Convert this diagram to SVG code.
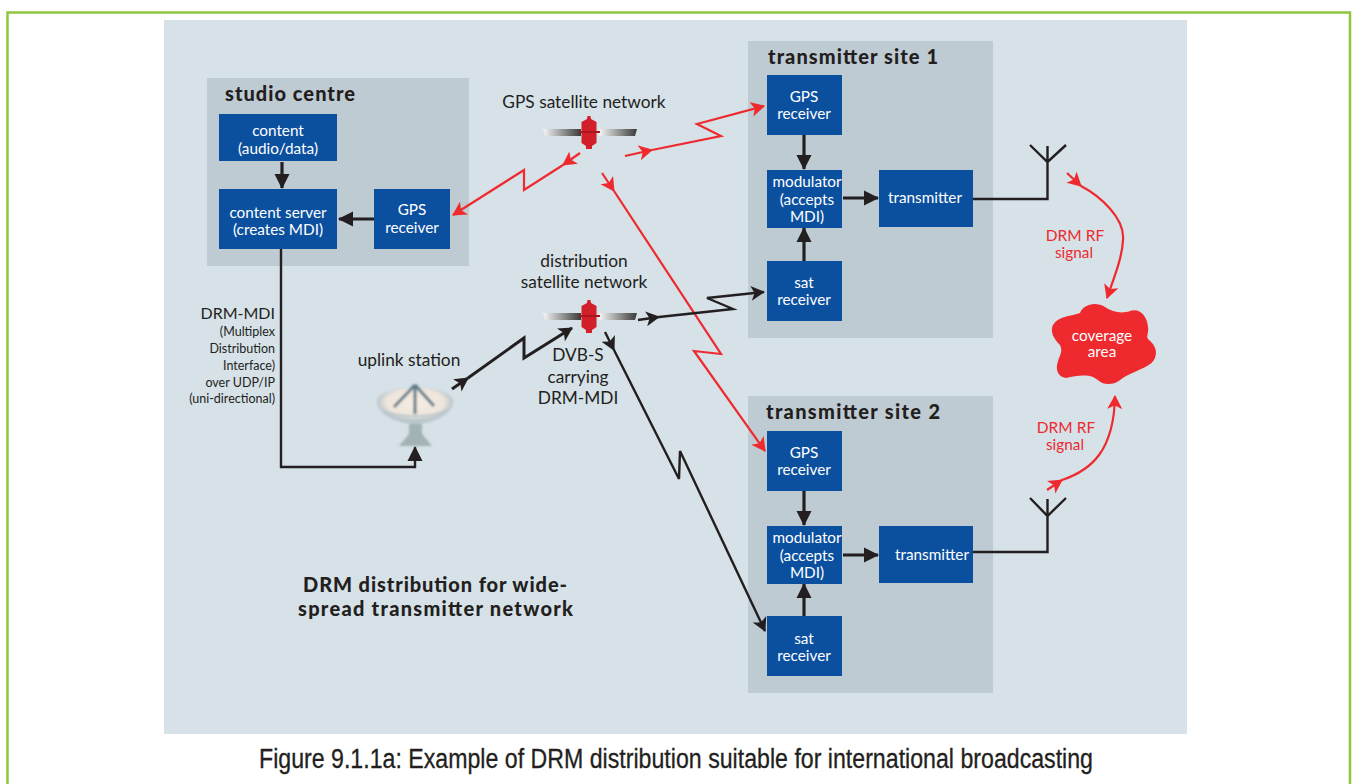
<svg xmlns="http://www.w3.org/2000/svg" width="1357" height="784" viewBox="0 0 1357 784">
<style>
.t{font-family:"Lato","Liberation Sans",sans-serif;font-size:15.3px;text-anchor:middle}
.l{font-size:17.3px}
.w{fill:#fff}.k{fill:#231f20}.r{fill:#ee2a2e}
.h{font-family:"Lato","Liberation Sans",sans-serif;font-size:20px;font-weight:900;fill:#231f20}
.b{fill:#0b509f}.g{fill:#bfcbd2}
.c{fill:none;stroke:#231f20;stroke-width:3.2}
.cr{fill:none;stroke:#ee2a2e;stroke-width:2.2}
.ck{fill:none;stroke:#231f20;stroke-width:2.4}
</style>
<defs>
<marker id="ak" markerUnits="userSpaceOnUse" markerWidth="18" markerHeight="18" refX="14" refY="8" orient="auto"><path d="M0 0.500L15 8L0 15.500Z" fill="#231f20"/></marker>
<marker id="ar" markerUnits="userSpaceOnUse" markerWidth="18" markerHeight="18" refX="13" refY="8" orient="auto"><path d="M0 0.500L14 8L0 15.500L3.500 8Z" fill="#ee2a2e"/></marker>
<marker id="akb" markerUnits="userSpaceOnUse" markerWidth="18" markerHeight="18" refX="13" refY="8" orient="auto"><path d="M0 0.500L14 8L0 15.500L3.500 8Z" fill="#231f20"/></marker>
<linearGradient id="pl"><stop offset="0" stop-color="#f6f6f6"/><stop offset="1" stop-color="#3a3a3a"/></linearGradient>
<radialGradient id="dish" cy="0.4"><stop offset="0" stop-color="#f5ede4"/><stop offset="0.75" stop-color="#efe6dc"/><stop offset="1" stop-color="#b9c6cb"/></radialGradient>
<filter id="bl"><feGaussianBlur stdDeviation="0.8"/></filter>
<g id="sat">
<path d="M-46 -3H-8V4H-44Z" fill="url(#pl)"/><path d="M10 -3H48L46 4H10Z" fill="url(#pl)"/>
<path d="M-2 -13L-1.500 -16H1.500L2 -13L7.500 -10V11L3 14V17H-3V14L-7.500 11V-10Z" fill="#d2202a"/>
<path d="M-10 0H11" stroke="#a8161f" stroke-width="2"/>
</g>
</defs>
<rect x="0" y="0" width="1357" height="784" fill="#fff"/>
<path d="M7.500 784V12.500H1350V784" fill="none" stroke="#8fc63f" stroke-width="2.500"/>
<rect x="164" y="20" width="1023" height="714" fill="#d6e1e8"/>
<rect class="g" x="207" y="78" width="262" height="188"/>
<rect class="g" x="748" y="41" width="245" height="297"/>
<rect class="g" x="748" y="396" width="245" height="297"/>
<g id="connectors">
<path class="c" marker-end="url(#ak)" d="M282 162V188"/>
<path class="c" marker-end="url(#ak)" d="M374 219H339"/>
<path class="ck" marker-end="url(#ak)" d="M281 249V467H415V447"/>
<path class="c" marker-end="url(#ak)" d="M804 135V169"/>
<path class="c" marker-end="url(#ak)" d="M843 198H878"/>
<path class="c" marker-end="url(#ak)" d="M804 261V228"/>
<path class="c" marker-end="url(#ak)" d="M804 491V525"/>
<path class="c" marker-end="url(#ak)" d="M843 555H878"/>
<path class="c" marker-end="url(#ak)" d="M804 616V584"/>
<path class="ck" d="M973 199H1047.500V146M1030 145L1047.500 162L1066 145"/>
<path class="ck" d="M973 552H1047.500V499M1030 498L1047.500 516L1066 498"/>
<path class="cr" marker-end="url(#ar)" d="M625 156L652 150"/>
<path class="cr" marker-end="url(#ar)" d="M652 150L721 136L697 124L764 106"/>
<path class="cr" marker-end="url(#ar)" d="M580 153L563 165"/>
<path class="cr" marker-end="url(#ar)" d="M563 165L524 190V170L453 215"/>
<path class="cr" marker-end="url(#ar)" d="M602 173L614 191"/>
<path class="cr" marker-end="url(#ar)" d="M614 191L721 354L694 351L765 451"/>
<path class="ck" marker-end="url(#akb)" d="M638 320L659 317"/>
<path class="ck" marker-end="url(#akb)" d="M659 317L733 309L707 298L764 292"/>
<path d="M452 389L468 378" fill="none" stroke="#231f20" stroke-width="3" marker-end="url(#akb)"/>
<path d="M468 378L524 338V358L572 328" fill="none" stroke="#231f20" stroke-width="3" marker-end="url(#akb)"/>
<path class="ck" marker-end="url(#akb)" d="M605 332L614 350"/>
<path class="ck" marker-end="url(#akb)" d="M614 350L679 479L680 451L765 631"/>
<path class="cr" marker-end="url(#ar)" d="M1067 173L1081 186"/>
<path class="cr" marker-end="url(#ar)" d="M1081 186C1100 196 1125 218 1123 240C1122 258 1115 275 1107 298"/>
<path class="cr" marker-end="url(#ar)" d="M1047 490L1062 480"/>
<path class="cr" marker-end="url(#ar)" d="M1062 480C1092 470 1114 450 1115 396"/>
</g>
<g id="node-content"><rect class="b" x="219" y="114" width="118" height="47"/><text class="t w" x="278" y="136">content</text><text class="t w" x="278" y="154">(audio/data)</text></g>
<g id="node-server"><rect class="b" x="219" y="189" width="118" height="60"/><text class="t w" x="278" y="218">content server</text><text class="t w" x="278" y="235">(creates MDI)</text></g>
<g id="node-gps0"><rect class="b" x="374" y="189" width="76" height="60"/><text class="t w" x="412" y="215">GPS</text><text class="t w" x="412" y="233">receiver</text></g>
<g id="node-gps1"><rect class="b" x="767" y="75" width="75" height="60"/><text class="t w" x="804" y="102">GPS</text><text class="t w" x="804" y="119">receiver</text></g>
<g id="node-mod1"><rect class="b" x="767" y="170" width="75" height="58"/><text class="t w" x="807" y="187">modulator</text><text class="t w" x="807" y="205">(accepts</text><text class="t w" x="807" y="222">MDI)</text></g>
<g id="node-tx1"><rect class="b" x="879" y="170" width="94" height="57"/><text class="t w" x="925" y="203">transmitter</text></g>
<g id="node-sat1"><rect class="b" x="767" y="261" width="75" height="60"/><text class="t w" x="804" y="288">sat</text><text class="t w" x="804" y="305">receiver</text></g>
<g id="node-gps2"><rect class="b" x="767" y="431" width="75" height="60"/><text class="t w" x="804" y="458">GPS</text><text class="t w" x="804" y="475">receiver</text></g>
<g id="node-mod2"><rect class="b" x="767" y="526" width="75" height="58"/><text class="t w" x="807" y="543">modulator</text><text class="t w" x="807" y="561">(accepts</text><text class="t w" x="807" y="578">MDI)</text></g>
<g id="node-tx2"><rect class="b" x="879" y="526" width="94" height="57"/><text class="t w" x="932" y="560">transmitter</text></g>
<g id="node-sat2"><rect class="b" x="767" y="616" width="75" height="60"/><text class="t w" x="804" y="644">sat</text><text class="t w" x="804" y="661">receiver</text></g>
<g id="node-coverage"><path d="M1080 313C1083 305 1095 301 1105 307C1112 312 1122 314 1130 311C1140 308 1147 316 1148 327C1149 333 1146 335 1148 339C1154 344 1158 350 1155 358C1152 366 1140 369 1128 375C1120 379 1118 384 1108 384C1100 384 1098 379 1093 377C1085 374 1075 376 1066 378C1058 377 1055 370 1058 361C1060 355 1063 351 1060 345C1053 338 1050 331 1053 325C1058 316 1072 316 1080 313Z" fill="#ee2a2e"/><text class="t w" x="1102" y="341">coverage</text><text class="t w" x="1102" y="357">area</text></g>
<g id="sat-gps"><use href="#sat" x="589" y="132"/></g>
<g id="sat-dist"><use href="#sat" x="589" y="316"/></g>
<g id="uplink" filter="url(#bl)">
<path d="M377 402C377 391 400 388 415 388C435 388 453 392 453 402C453 414 432 424 415 424C398 424 377 414 377 402Z" fill="url(#dish)"/>
<path d="M383 410C395 418 435 418 447 410" fill="none" stroke="#b9c6cb" stroke-width="2"/>
<path d="M415 385V414M415 385L394 407M415 385L434 406" stroke="#5f7a86" stroke-width="3" fill="none"/>
<path d="M409 424H422V434L432 446H399L409 434Z" fill="#a3b2b5"/>
</g>
<text class="h" x="225" y="101" textLength="130" lengthAdjust="spacing">studio centre</text>
<text class="h" x="768" y="64" textLength="170" lengthAdjust="spacing">transmitter site 1</text>
<text class="h" x="766" y="419" textLength="174" lengthAdjust="spacing">transmitter site 2</text>
<text class="t k l" x="584" y="108">GPS satellite network</text>
<text class="t k l" x="584" y="267">distribution</text>
<text class="t k l" x="584" y="288">satellite network</text>
<text class="t k l" x="409" y="366">uplink station</text>
<text class="t k l" x="578" y="361">DVB-S</text>
<text class="t k l" x="578" y="383">carrying</text>
<text class="t k l" x="578" y="404">DRM-MDI</text>
<g class="k" style="font-family:Lato,'Liberation Sans',sans-serif;text-anchor:end">
<text x="275" y="319" style="font-size:16px">DRM-MDI</text>
<text x="275" y="336" style="font-size:12.500px">(Multiplex</text>
<text x="275" y="353" style="font-size:12.500px">Distribution</text>
<text x="275" y="370" style="font-size:12.500px">Interface)</text>
<text x="275" y="387" style="font-size:12.500px">over UDP/IP</text>
<text x="275" y="403" style="font-size:12.500px">(uni-directional)</text>
</g>
<text class="t r" x="1075" y="241" style="font-size:15.500px">DRM RF</text>
<text class="t r" x="1074" y="258">signal</text>
<text class="t r" x="1066" y="433" style="font-size:15.500px">DRM RF</text>
<text class="t r" x="1065" y="450">signal</text>
<text class="h" x="303" y="592" textLength="264" lengthAdjust="spacing">DRM distribution for wide-</text>
<text class="h" x="298" y="616" textLength="275" lengthAdjust="spacing">spread transmitter network</text>
<text x="259" y="768" style="font-family:'Liberation Sans Narrow','Liberation Sans',sans-serif;font-size:27px;fill:#231f20;stroke:#231f20;stroke-width:0.3" textLength="834" lengthAdjust="spacingAndGlyphs">Figure 9.1.1a: Example of DRM distribution suitable for international broadcasting</text>
</svg>
